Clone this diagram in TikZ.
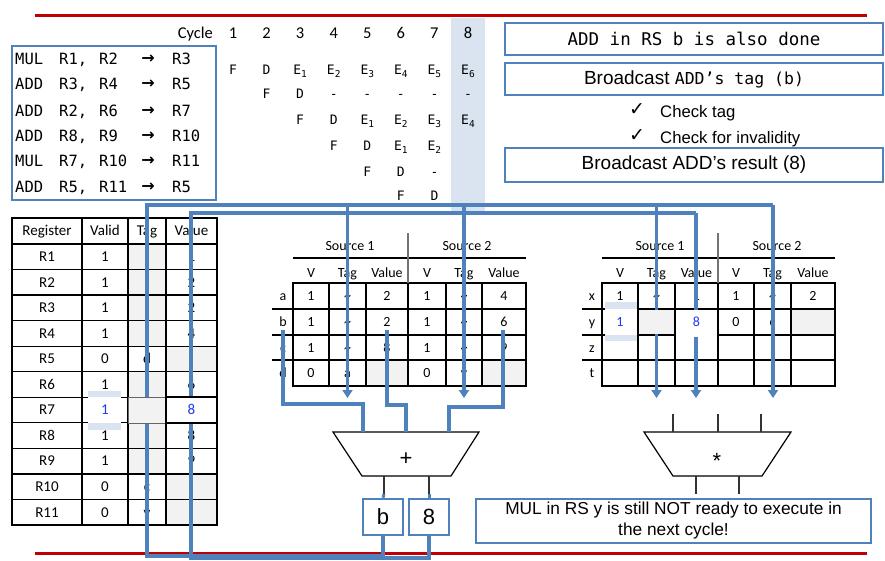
\documentclass[tikz,border=0pt]{standalone}
\usepackage{fontspec}
\setmainfont{Carlito}
\newfontfamily\arialf{Liberation Sans}
\newfontfamily\monof{DejaVu Sans Mono}
\newfontfamily\djv{DejaVu Sans}
\usetikzlibrary{arrows.meta}
\definecolor{wire}{HTML}{4F81BD}
\definecolor{hl}{HTML}{DAE3F0}
\definecolor{redl}{HTML}{C00000}
\definecolor{cellg}{HTML}{F2F2F2}
\definecolor{btxt}{HTML}{1F3AF0}
\newcommand\Es[1]{E\raisebox{-2.6pt}{\fontsize{9.5}{10}\selectfont #1}}
\begin{document}
\begin{tikzpicture}[x=1pt,y=-1pt,
  wirel/.style={draw=wire,line width=3.2pt},
  droptip/.style={wirel,-{Triangle[width=10pt,length=8pt]}},
  gridl/.style={draw=black,line width=1.2pt},
  ins/.style={inner sep=0pt,anchor=west,text height=11.3pt,text depth=0pt,font=\monof\fontsize{15.5}{17}\selectfont},
  pip/.style={inner sep=0pt,text height=9.5pt,text depth=0pt,font=\monof\fontsize{13}{15}\selectfont},
  cyc/.style={inner sep=0pt,text height=10.5pt,text depth=0pt,font=\fontsize{16.5}{18}\selectfont},
  rt/.style={inner sep=0pt,text height=9.7pt,text depth=0pt,font=\fontsize{15}{17}\selectfont},
  st/.style={inner sep=0pt,text height=9pt,text depth=0pt,font=\fontsize{14}{16}\selectfont},
  tbox/.style={draw=wire,line width=2.2pt,inner sep=0pt,minimum width=378pt},
  chk/.style={inner sep=0pt,anchor=west,text height=12pt,text depth=0pt,font=\arialf\fontsize{16.7}{19}\selectfont},
  tick/.style={inner sep=0pt,font=\djv\fontsize{19}{21}\selectfont},
  big/.style={inner sep=0pt,text height=16pt,text depth=0pt,font=\arialf\fontsize{22}{24}\selectfont},
  alul/.style={draw=black,line width=1.2pt,fill=white},
  stub/.style={draw=black!80,line width=1.1pt},
]
\useasboundingbox (0,0) rectangle (885,560);

% ---------- highlight of cycle 8 ----------
\fill[hl] (451,18) rectangle (485,213);

% ---------- instruction list ----------
\node[draw=wire,line width=1.8pt,inner sep=0pt,minimum width=204pt,minimum height=154pt,anchor=north west] (instr) at (11,45) {};
\foreach \yy/\op/\sa/\sb/\dd [count=\k] in {59/MUL/{R1,}/R2/R3,84/ADD/{R3,}/R4/R5,111/ADD/{R2,}/R6/R7,136/ADD/{R8,}/R9/R10,161/MUL/{R7,}/R10/R11,187/ADD/{R5,}/R11/R5}{
  \node[ins] (op\k) at (15,\yy) {\op};
  \node[ins] (sa\k) at (59,\yy) {\sa};
  \node[ins] (sb\k) at (99,\yy) {\sb};
  \node[inner sep=0pt,font=\djv\bfseries\fontsize{16}{18}\selectfont] (ar\k) at (148,\yy) {→};
  \node[ins] (dd\k) at (172,\yy) {\dd};
}

% ---------- pipeline ----------
\node[cyc,anchor=east] (cycle) at (213,33) {Cycle};
\foreach \c in {1,...,8}
  \node[cyc] (c\c) at ({233+(\c-1)*33.57},33) {\c};
\foreach \yy/\s/\lst in {70/1/{F,D,\Es1,\Es2,\Es3,\Es4,\Es5,\Es6},94/2/{F,D,-,-,-,-,-},120/3/{F,D,\Es1,\Es2,\Es3,\Es4},146/4/{F,D,\Es1,\Es2},172/5/{F,D,-},196/6/{F,D}}{
  \foreach \t [count=\i] in \lst
    \node[pip] (p\s-\i) at ({233+(\s+\i-2)*33.57},\yy) {\t};
}

% ---------- right text boxes ----------
\node[tbox,minimum height=32pt,font=\monof\fontsize{17.5}{19}\selectfont] (done) at (694,39) {ADD in RS b is also done};
\node[tbox,minimum height=32pt] (btag) at (694,79) {{\arialf\fontsize{19}{21}\selectfont Broadcast\ }{\monof\fontsize{16.5}{18}\selectfont ADD’s tag (b)}};
\node[tick] (ck1) at (637,110) {✓};
\node[chk] (ct1) at (660,111) {Check tag};
\node[tick] (ck2) at (637,136) {✓};
\node[chk] (ct2) at (660,137) {Check for invalidity};
\node[tbox,minimum height=34pt,font=\arialf\fontsize{19}{21}\selectfont] (bres) at (694,165) {Broadcast ADD’s result (8)};

% ---------- register table ----------
\foreach \r in {0,1,2,3,5,6,7,8}
  \fill[cellg] (128,{244+\r*25.545}) rectangle (166,{244+(\r+1)*25.545});
\foreach \r in {4,9,10}
  \fill[cellg] (166,{244+\r*25.545}) rectangle (217,{244+(\r+1)*25.545});
\draw[gridl] (12,218) rectangle (217,525);
\foreach \xx in {82,128,166} \draw[gridl] (\xx,218) -- (\xx,525);
\foreach \r in {0,...,10} \draw[gridl] (12,{244+\r*25.545}) -- (217,{244+\r*25.545});
\node[rt] (hReg) at (47,231) {Register};
\node[rt] (hVld) at (105,231) {Valid};
\node[rt] (hTag) at (147,231) {Tag};
\node[rt] (hVal) at (191.5,231) {Value};
\foreach \nm/\vv/\tg/\vl [count=\r from 0] in {R1/1//1,R2/1//2,R3/1//2,R4/1//4,R5/0/d/,R6/1//6,R7/1//8,R8/1//8,R9/1//9,R10/0/c/,R11/0/y/}{
  \node[rt] (rn\r) at (47,{244+(\r+0.5)*25.545}) {\nm};
  \node[rt] (rv\r) at (105,{244+(\r+0.5)*25.545}) {\vv};
  \node[rt] (rt\r) at (147,{244+(\r+0.5)*25.545}) {\tg};
  \node[rt] (rx\r) at (191.5,{244+(\r+0.5)*25.545}) {\vl};
}

% ---------- ADD reservation station ----------
\fill[cellg] (366,360) rectangle (408,386);
\fill[cellg] (482,360) rectangle (526,386);
\draw[gridl] (293,283) rectangle (526,386);
\foreach \xx in {329,366,408,446,482} \draw[gridl] (\xx,283) -- (\xx,386);
\foreach \yy in {309,335,360} \draw[gridl] (272,\yy) -- (526,\yy);
\draw[gridl] (293,258) -- (526,258);
\draw[draw=black!55,line width=1.2pt] (408,233) -- (408,283);
\node[st] (as1) at (350,246) {Source 1};
\node[st] (as2) at (467,246) {Source 2};
\foreach \h/\xx [count=\i] in {V/311,Tag/347.5,Value/387,V/427,Tag/464,Value/504}
  \node[st] (ah\i) at (\xx,273) {\h};
\foreach \lb/\yy/\va/\ta/\xa/\vb/\tb/\xb in {a/296/1/\textasciitilde/2/1/\textasciitilde/4,b/322/1/\textasciitilde/2/1/\textasciitilde/6,c/347.5/1/\textasciitilde/8/1/\textasciitilde/9,d/373/0/a//0/y/}{
  \node[st] (al\lb) at (283,\yy) {\lb};
  \node[st] (a\lb1) at (311,\yy) {\va};
  \node[st] (a\lb2) at (347.5,\yy) {\ta};
  \node[st] (a\lb3) at (387,\yy) {\xa};
  \node[st] (a\lb4) at (427,\yy) {\vb};
  \node[st] (a\lb5) at (464,\yy) {\tb};
  \node[st] (a\lb6) at (504,\yy) {\xb};
}

% ---------- MUL reservation station ----------
\fill[cellg] (791,309) rectangle (835,335);
\draw[gridl] (602,283) rectangle (835,386);
\foreach \xx in {638,675,718,754,791} \draw[gridl] (\xx,283) -- (\xx,386);
\foreach \yy in {309,335,360} \draw[gridl] (582,\yy) -- (835,\yy);
\draw[gridl] (602,258) -- (835,258);
\draw[draw=black!55,line width=1.2pt] (718,233) -- (718,283);
\node[st] (ms1) at (660,246) {Source 1};
\node[st] (ms2) at (777,246) {Source 2};
\foreach \h/\xx [count=\i] in {V/620,Tag/656.5,Value/696.5,V/736,Tag/772.5,Value/813}
  \node[st] (mh\i) at (\xx,273) {\h};
\foreach \lb/\yy/\va/\ta/\xa/\vb/\tb/\xb in {x/296/1/\textasciitilde/1/1/\textasciitilde/2,y/322////0/c/,z/347.5//////,t/373//////}{
  \node[st] (ml\lb) at (592,\yy) {\lb};
  \node[st] (m\lb1) at (620,\yy) {\va};
  \node[st] (m\lb2) at (656.5,\yy) {\ta};
  \node[st] (m\lb3) at (696.5,\yy) {\xa};
  \node[st] (m\lb4) at (736,\yy) {\vb};
  \node[st] (m\lb5) at (772.5,\yy) {\tb};
  \node[st] (m\lb6) at (813,\yy) {\xb};
}

% ---------- bottom red line (behind wires) ----------
\draw[redl,line width=3pt] (35,553) -- (867,553);

% ---------- result boxes ----------
\node[draw=wire,line width=2.6pt,minimum width=40pt,minimum height=36pt,inner sep=0pt,font=\arialf\fontsize{22}{24}\selectfont] (bbox) at (383,517) {b};
\node[draw=wire,line width=2.6pt,minimum width=40pt,minimum height=36pt,inner sep=0pt,font=\arialf\fontsize{22}{24}\selectfont] (vbox) at (429,517) {8};

% ---------- buses ----------
\coordinate (tagL) at (147,205);
\coordinate (tagR) at (773,205);
\coordinate (valL) at (191,213);
\coordinate (valR) at (696,213);
\draw[wirel] (bbox.south) -- (383,556) -- (147,556) -- (tagL) -- (tagR);
\draw[wirel] (vbox.south) -- (429,560);
\draw[wirel] (429,558) -- (191,558) -- (valL) -- (valR);
\foreach \xx [count=\i] in {347.5,464,656.5,773}{
  \coordinate (td\i) at (\xx,205);
  \coordinate (te\i) at (\xx,398);
  \draw[droptip] (td\i) -- (te\i);
}
\coordinate (ve1) at (696,398);
\draw[droptip] (valR) -- (ve1);

% ---------- ADD ALU ----------
\coordinate (aa1) at (333,432);
\coordinate (aa2) at (479,432);
\coordinate (aa3) at (451,476);
\coordinate (aa4) at (362,476);
\draw[alul] (aa1) -- (aa2) -- (aa3) -- (aa4) -- cycle;
\node[big] (plus) at (406,457) {+};
\draw[wirel] (283,330) -- (283,404) -- (363,404) -- (363,432);
\draw[wirel] (387,330) -- (387,405) -- (406,405) -- (406,432);
\draw[wirel] (503,330) -- (503,407) -- (449,407) -- (449,432);
\draw[stub] (384,476) -- (384,497);
\draw[stub] (429,476) -- (429,497);
\draw[draw=wire,line width=3pt] (384,494) -- (bbox.north);
\draw[draw=wire,line width=3pt] (429,494) -- (vbox.north);

% ---------- MUL ALU ----------
\coordinate (ma1) at (644,432);
\coordinate (ma2) at (791,432);
\coordinate (ma3) at (762,476);
\coordinate (ma4) at (673,476);
\draw[alul] (ma1) -- (ma2) -- (ma3) -- (ma4) -- cycle;
\node[big] (star) at (717,460) {*};
\foreach \xx in {673,718,761} \draw[stub] (\xx,414) -- (\xx,432);
\foreach \xx in {696,739} \draw[stub] (\xx,476) -- (\xx,494);

% ---------- updated cells (drawn over the wires) ----------
\fill[hl] (88,391) rectangle (121,430);
\fill[white] (88,397) rectangle (121,423);
\node[rt,text=btxt] (r7v) at (105,410) {1};
\draw[fill=cellg,draw=black!60,line width=0.8pt] (128,397) rectangle (166,423);
\draw[fill=white,gridl] (166,397) rectangle (217,423);
\node[rt,text=btxt] (r7x) at (191.5,410) {8};

\fill[hl] (605,302) rectangle (637,341);
\fill[white] (605,309) rectangle (637,335);
\node[st,text=btxt] (myv) at (620,322) {1};
\fill[cellg] (638.6,309.6) rectangle (674.4,334.4);
\fill[white] (675.6,309.6) rectangle (717.4,337);
\node[st,text=btxt] (myx) at (696.5,322) {8};

% ---------- message box ----------
\node[draw=wire,line width=2.2pt,minimum width=395pt,minimum height=44pt,inner sep=0pt,align=center,font=\arialf\fontsize{17.3}{21}\selectfont] (msg) at (673.5,521) {MUL in RS y is still NOT ready to execute in\\the next cycle!};

% ---------- top red line ----------
\draw[redl,line width=3pt] (35,15) -- (867,15);
\end{tikzpicture}
\end{document}
